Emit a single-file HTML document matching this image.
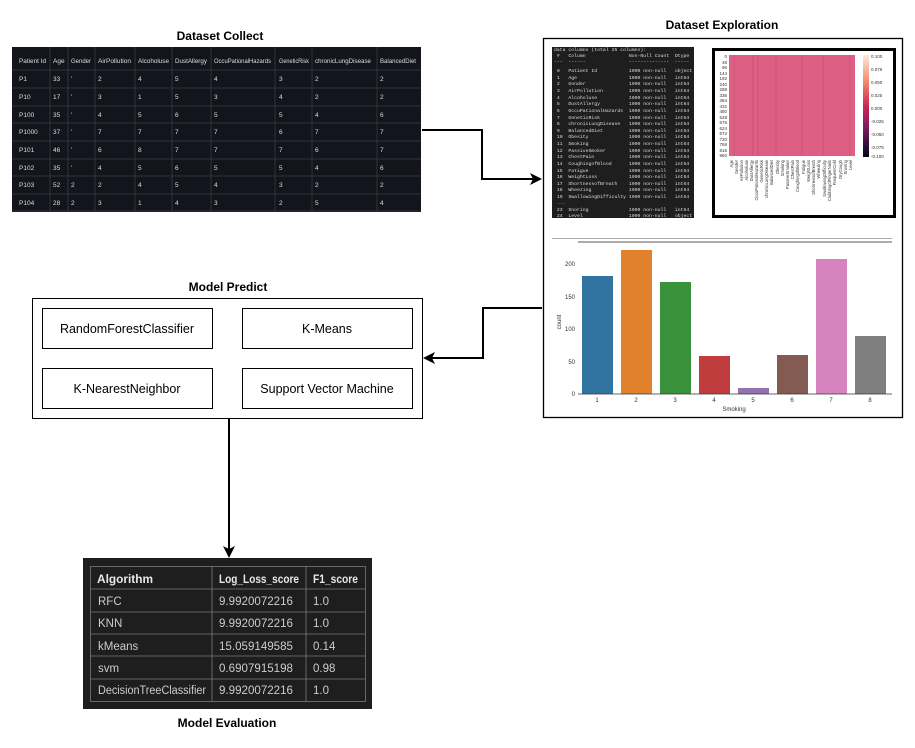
<!DOCTYPE html>
<html><head><meta charset="utf-8"><style>
html,body{margin:0;padding:0;background:#fff;width:915px;height:748px;overflow:hidden}
svg{display:block}
text{font-family:"Liberation Sans",sans-serif}
.t{font-weight:bold;font-size:12px;fill:#000;text-anchor:middle}
.dt{font-size:6.5px;fill:#ddd}
.mono text{font-family:"Liberation Mono",monospace;font-size:4.8px;fill:#ddd;white-space:pre}
.ev{font-size:11.5px;fill:#ccc}
.box{font-size:12.5px;fill:#000;text-anchor:middle}
.ax{font-size:6px;fill:#333}
</style></head><body>
<svg width="915" height="748" viewBox="0 0 915 748" xmlns="http://www.w3.org/2000/svg">
<text class="t" x="220" y="40">Dataset Collect</text>
<text class="t" x="722" y="29">Dataset Exploration</text>
<text class="t" x="228" y="291">Model Predict</text>
<text class="t" x="227" y="727">Model Evaluation</text>

<rect x="12" y="47" width="409" height="165" fill="#12151c"/>
<g stroke="#3a3f48" stroke-width="0.7">
<line x1="12" y1="70" x2="421" y2="70"/>
<line x1="12" y1="88" x2="421" y2="88"/><line x1="12" y1="106" x2="421" y2="106"/>
<line x1="12" y1="123" x2="421" y2="123"/><line x1="12" y1="141" x2="421" y2="141"/>
<line x1="12" y1="159" x2="421" y2="159"/><line x1="12" y1="176" x2="421" y2="176"/>
<line x1="12" y1="194" x2="421" y2="194"/><line x1="12" y1="211" x2="421" y2="211"/>
<line x1="50" y1="47" x2="50" y2="211"/><line x1="68" y1="47" x2="68" y2="211"/>
<line x1="95" y1="47" x2="95" y2="211"/><line x1="135" y1="47" x2="135" y2="211"/>
<line x1="172" y1="47" x2="172" y2="211"/><line x1="211" y1="47" x2="211" y2="211"/>
<line x1="275" y1="47" x2="275" y2="211"/><line x1="312" y1="47" x2="312" y2="211"/>
<line x1="377" y1="47" x2="377" y2="211"/>
</g>
<g class="dt" font-size="5.4">
<text x="19" y="63" textLength="27" lengthAdjust="spacingAndGlyphs">Patient Id</text><text x="53" y="63">Age</text><text x="71" y="63" textLength="20" lengthAdjust="spacingAndGlyphs">Gender</text><text x="98" y="63" textLength="33" lengthAdjust="spacingAndGlyphs">AirPollution</text><text x="138" y="63" textLength="31" lengthAdjust="spacingAndGlyphs">Alcoholuse</text><text x="175" y="63" textLength="32" lengthAdjust="spacingAndGlyphs">DustAllergy</text><text x="214" y="63" textLength="57" lengthAdjust="spacingAndGlyphs">OccuPationalHazards</text><text x="279" y="63" textLength="30" lengthAdjust="spacingAndGlyphs">GeneticRisk</text><text x="315" y="63" textLength="56" lengthAdjust="spacingAndGlyphs">chronicLungDisease</text><text x="380" y="63" textLength="36" lengthAdjust="spacingAndGlyphs">BalancedDiet</text>
</g>
<g class="dt" font-size="6.5">
<text x="19" y="81">P1</text><text x="53" y="81">33</text><text x="71" y="81">'</text><text x="98" y="81">2</text><text x="138" y="81">4</text><text x="175" y="81">5</text><text x="214" y="81">4</text><text x="279" y="81">3</text><text x="315" y="81">2</text><text x="380" y="81">2</text>
<text x="19" y="99">P10</text><text x="53" y="99">17</text><text x="71" y="99">'</text><text x="98" y="99">3</text><text x="138" y="99">1</text><text x="175" y="99">5</text><text x="214" y="99">3</text><text x="279" y="99">4</text><text x="315" y="99">2</text><text x="380" y="99">2</text>
<text x="19" y="117">P100</text><text x="53" y="117">35</text><text x="71" y="117">'</text><text x="98" y="117">4</text><text x="138" y="117">5</text><text x="175" y="117">6</text><text x="214" y="117">5</text><text x="279" y="117">5</text><text x="315" y="117">4</text><text x="380" y="117">6</text>
<text x="19" y="134">P1000</text><text x="53" y="134">37</text><text x="71" y="134">'</text><text x="98" y="134">7</text><text x="138" y="134">7</text><text x="175" y="134">7</text><text x="214" y="134">7</text><text x="279" y="134">6</text><text x="315" y="134">7</text><text x="380" y="134">7</text>
<text x="19" y="152">P101</text><text x="53" y="152">46</text><text x="71" y="152">'</text><text x="98" y="152">6</text><text x="138" y="152">8</text><text x="175" y="152">7</text><text x="214" y="152">7</text><text x="279" y="152">7</text><text x="315" y="152">6</text><text x="380" y="152">7</text>
<text x="19" y="170">P102</text><text x="53" y="170">35</text><text x="71" y="170">'</text><text x="98" y="170">4</text><text x="138" y="170">5</text><text x="175" y="170">6</text><text x="214" y="170">5</text><text x="279" y="170">5</text><text x="315" y="170">4</text><text x="380" y="170">6</text>
<text x="19" y="187">P103</text><text x="53" y="187">52</text><text x="71" y="187">2</text><text x="98" y="187">2</text><text x="138" y="187">4</text><text x="175" y="187">5</text><text x="214" y="187">4</text><text x="279" y="187">3</text><text x="315" y="187">2</text><text x="380" y="187">2</text>
<text x="19" y="205">P104</text><text x="53" y="205">28</text><text x="71" y="205">2</text><text x="98" y="205">3</text><text x="138" y="205">1</text><text x="175" y="205">4</text><text x="214" y="205">3</text><text x="279" y="205">2</text><text x="315" y="205">5</text><text x="380" y="205">4</text>
</g>

<g fill="none" stroke="#000" stroke-width="2">
<polyline points="422,130 482,130 482,179 533,179"/>
<polyline points="542,308 483,308 483,358 431,358"/>
<line x1="229" y1="418" x2="229" y2="549"/>
</g>
<polygon points="542,179 530,173 533,179 530,185" fill="#000"/>
<polygon points="423,358 435,352 432,358 435,364" fill="#000"/>
<polygon points="229,558 223,546 229,549 235,546" fill="#000"/>

<rect x="543.5" y="38.5" width="359" height="379" fill="#fff" stroke="#000" stroke-width="1.3"/>
<rect x="552" y="47" width="142" height="171" fill="#1e1e1e"/>
<g class="mono" xml:space="preserve">
<text x="554" y="51">data columns (total 25 columns):</text>
<text x="554" y="57"> #   Column               Non-Null Count  Dtype</text>
<text x="554" y="63">---  ------               --------------  -----</text>
<text x="554" y="72"> 0   Patient Id           1000 non-null   object</text>
<text x="554" y="79"> 1   Age                  1000 non-null   int64</text>
<text x="554" y="85"> 2   Gender               1000 non-null   int64</text>
<text x="554" y="92"> 3   AirPollution         1000 non-null   int64</text>
<text x="554" y="99"> 4   Alcoholuse           1000 non-null   int64</text>
<text x="554" y="105"> 5   DustAllergy          1000 non-null   int64</text>
<text x="554" y="112"> 6   OccuPationalHazards  1000 non-null   int64</text>
<text x="554" y="119"> 7   GeneticRisk          1000 non-null   int64</text>
<text x="554" y="125"> 8   chronicLungDisease   1000 non-null   int64</text>
<text x="554" y="132"> 9   BalancedDiet         1000 non-null   int64</text>
<text x="554" y="138"> 10  Obesity              1000 non-null   int64</text>
<text x="554" y="145"> 11  Smoking              1000 non-null   int64</text>
<text x="554" y="152"> 12  PassiveSmoker        1000 non-null   int64</text>
<text x="554" y="158"> 13  ChestPain            1000 non-null   int64</text>
<text x="554" y="165"> 14  CoughingofBlood      1000 non-null   int64</text>
<text x="554" y="172"> 15  Fatigue              1000 non-null   int64</text>
<text x="554" y="178"> 16  WeightLoss           1000 non-null   int64</text>
<text x="554" y="185"> 17  ShortnessofBreath    1000 non-null   int64</text>
<text x="554" y="191"> 18  Wheezing             1000 non-null   int64</text>
<text x="554" y="198"> 19  SwallowingDifficulty 1000 non-null   int64</text>
<text x="554" y="204"> ...</text>
<text x="554" y="211"> 23  Snoring              1000 non-null   int64</text>
<text x="554" y="217"> 24  Level                1000 non-null   object</text>
</g>

<rect x="713.5" y="49.5" width="181" height="167" fill="#fff" stroke="#000" stroke-width="3"/>
<rect x="729" y="55" width="126" height="101" fill="#dd5f83"/>
<g stroke="#c94c73" stroke-width="0.7">
<line x1="734" y1="55" x2="734" y2="156"/><line x1="753" y1="55" x2="753" y2="156"/><line x1="758" y1="55" x2="758" y2="156"/>
<line x1="776" y1="55" x2="776" y2="156"/><line x1="802" y1="55" x2="802" y2="156"/><line x1="823" y1="55" x2="823" y2="156"/>
<line x1="850" y1="55" x2="850" y2="156"/>
</g>
<defs><linearGradient id="cb" x1="0" y1="0" x2="0" y2="1">
<stop offset="0" stop-color="#fbe9dc"/><stop offset="0.25" stop-color="#f3906a"/><stop offset="0.5" stop-color="#d0265a"/><stop offset="0.75" stop-color="#6b1c57"/><stop offset="1" stop-color="#03051a"/></linearGradient></defs>
<rect x="863" y="55" width="6" height="102" fill="url(#cb)"/>
<g font-size="4.5" fill="#333" font-family="Liberation Sans">
<text x="871" y="58">0.100</text><text x="871" y="71">0.075</text><text x="871" y="84">0.050</text><text x="871" y="97">0.025</text><text x="871" y="110">0.000</text><text x="871" y="123">-0.025</text><text x="871" y="136">-0.050</text><text x="871" y="149">-0.075</text><text x="871" y="158">-0.100</text>
</g>
<g font-size="4.5" fill="#333" text-anchor="end" font-family="Liberation Sans">
<text x="727" y="58">0</text><text x="727" y="64">48</text><text x="727" y="69">96</text><text x="727" y="75">144</text><text x="727" y="80">192</text><text x="727" y="86">240</text><text x="727" y="91">288</text><text x="727" y="97">336</text><text x="727" y="102">384</text><text x="727" y="108">432</text><text x="727" y="113">480</text><text x="727" y="119">528</text><text x="727" y="124">576</text><text x="727" y="130">624</text><text x="727" y="135">672</text><text x="727" y="141">720</text><text x="727" y="146">768</text><text x="727" y="152">816</text><text x="727" y="157">960</text>
</g>
<g font-size="4.2" fill="#333" font-family="Liberation Sans" text-anchor="end">
<text transform="translate(733,160) rotate(-90)">Age</text><text transform="translate(738,160) rotate(-90)">Gender</text><text transform="translate(743,160) rotate(-90)">AirPollution</text><text transform="translate(748,160) rotate(-90)">Alcoholuse</text><text transform="translate(753,160) rotate(-90)">DustAllergy</text><text transform="translate(758,160) rotate(-90)">OccuPationalHazards</text><text transform="translate(763,160) rotate(-90)">GeneticRisk</text><text transform="translate(768,160) rotate(-90)">chronicLungDisease</text><text transform="translate(773,160) rotate(-90)">BalancedDiet</text><text transform="translate(779,160) rotate(-90)">Obesity</text><text transform="translate(784,160) rotate(-90)">Smoking</text><text transform="translate(789,160) rotate(-90)">PassiveSmoker</text><text transform="translate(794,160) rotate(-90)">ChestPain</text><text transform="translate(799,160) rotate(-90)">CoughingofBlood</text><text transform="translate(805,160) rotate(-90)">Fatigue</text><text transform="translate(810,160) rotate(-90)">WeightLoss</text><text transform="translate(815,160) rotate(-90)">ShortnessofBreath</text><text transform="translate(820,160) rotate(-90)">Wheezing</text><text transform="translate(826,160) rotate(-90)">SwallowingDifficulty</text><text transform="translate(831,160) rotate(-90)">ClubbingofFingerNails</text><text transform="translate(836,160) rotate(-90)">FrequentCold</text><text transform="translate(842,160) rotate(-90)">DryCough</text><text transform="translate(847,160) rotate(-90)">Snoring</text><text transform="translate(852,160) rotate(-90)">Level</text>
</g>

<line x1="552" y1="238.5" x2="892" y2="238.5" stroke="#aaa" stroke-width="1"/>
<line x1="578" y1="242" x2="892" y2="242" stroke="#222" stroke-width="0.8"/>
<g>
<rect x="582" y="276" width="31" height="118" fill="#3274a1"/>
<rect x="621" y="250" width="31" height="144" fill="#e1812c"/>
<rect x="660" y="282" width="31" height="112" fill="#3a923a"/>
<rect x="699" y="356" width="31" height="38" fill="#c03d3e"/>
<rect x="738" y="388" width="31" height="6" fill="#9372b2"/>
<rect x="777" y="355" width="31" height="39" fill="#845b53"/>
<rect x="816" y="259" width="31" height="135" fill="#d684bd"/>
<rect x="855" y="336" width="31" height="58" fill="#7f7f7f"/>
</g>
<line x1="578" y1="394" x2="892" y2="394" stroke="#333" stroke-width="0.8"/>
<g class="ax" text-anchor="end">
<text x="575" y="266">200</text><text x="575" y="299">150</text><text x="575" y="331">100</text><text x="575" y="364">50</text><text x="575" y="396">0</text>
</g>
<g class="ax" text-anchor="middle">
<text x="597" y="402">1</text><text x="636" y="402">2</text><text x="675" y="402">3</text><text x="714" y="402">4</text><text x="753" y="402">5</text><text x="792" y="402">6</text><text x="831" y="402">7</text><text x="870" y="402">8</text>
<text x="734" y="411">Smoking</text>
</g>
<text class="ax" transform="translate(561,322) rotate(-90)" text-anchor="middle">count</text>

<rect x="32.5" y="298.5" width="390" height="120" fill="#fff" stroke="#000" stroke-width="1"/>
<rect x="42.5" y="308.5" width="170" height="40" fill="#fff" stroke="#000"/>
<rect x="242.5" y="308.5" width="170" height="40" fill="#fff" stroke="#000"/>
<rect x="42.5" y="368.5" width="170" height="40" fill="#fff" stroke="#000"/>
<rect x="242.5" y="368.5" width="170" height="40" fill="#fff" stroke="#000"/>
<text class="box" x="127" y="333">RandomForestClassifier</text>
<text class="box" x="327" y="333">K-Means</text>
<text class="box" x="127" y="393">K-NearestNeighbor</text>
<text class="box" x="327" y="393">Support Vector Machine</text>

<rect x="83" y="558" width="289" height="151" fill="#1e1e1e"/>
<g stroke="#7a7a7a" stroke-width="0.8" fill="none">
<rect x="90.5" y="566.5" width="275" height="135"/>
<line x1="90" y1="589" x2="366" y2="589"/><line x1="90" y1="612" x2="366" y2="612"/>
<line x1="90" y1="634" x2="366" y2="634"/><line x1="90" y1="656" x2="366" y2="656"/>
<line x1="90" y1="679" x2="366" y2="679"/>
<line x1="212" y1="566" x2="212" y2="701"/><line x1="306" y1="566" x2="306" y2="701"/>
</g>
<g class="ev">
<text x="97" y="583" font-weight="bold" fill="#e8e8e8" textLength="56" lengthAdjust="spacingAndGlyphs">Algorithm</text><text x="219" y="583" font-weight="bold" fill="#e8e8e8" textLength="80" lengthAdjust="spacingAndGlyphs">Log_Loss_score</text><text x="313" y="583" font-weight="bold" fill="#e8e8e8" textLength="45" lengthAdjust="spacingAndGlyphs">F1_score</text>
<text x="98" y="605">RFC</text><text x="219" y="605" textLength="74" lengthAdjust="spacingAndGlyphs">9.9920072216</text><text x="313" y="605">1.0</text>
<text x="98" y="627">KNN</text><text x="219" y="627" textLength="74" lengthAdjust="spacingAndGlyphs">9.9920072216</text><text x="313" y="627">1.0</text>
<text x="98" y="650">kMeans</text><text x="219" y="650" textLength="74" lengthAdjust="spacingAndGlyphs">15.059149585</text><text x="313" y="650">0.14</text>
<text x="98" y="672">svm</text><text x="219" y="672" textLength="74" lengthAdjust="spacingAndGlyphs">0.6907915198</text><text x="313" y="672">0.98</text>
<text x="98" y="694" textLength="108" lengthAdjust="spacingAndGlyphs">DecisionTreeClassifier</text><text x="219" y="694" textLength="74" lengthAdjust="spacingAndGlyphs">9.9920072216</text><text x="313" y="694">1.0</text>
</g>
</svg>
</body></html>
